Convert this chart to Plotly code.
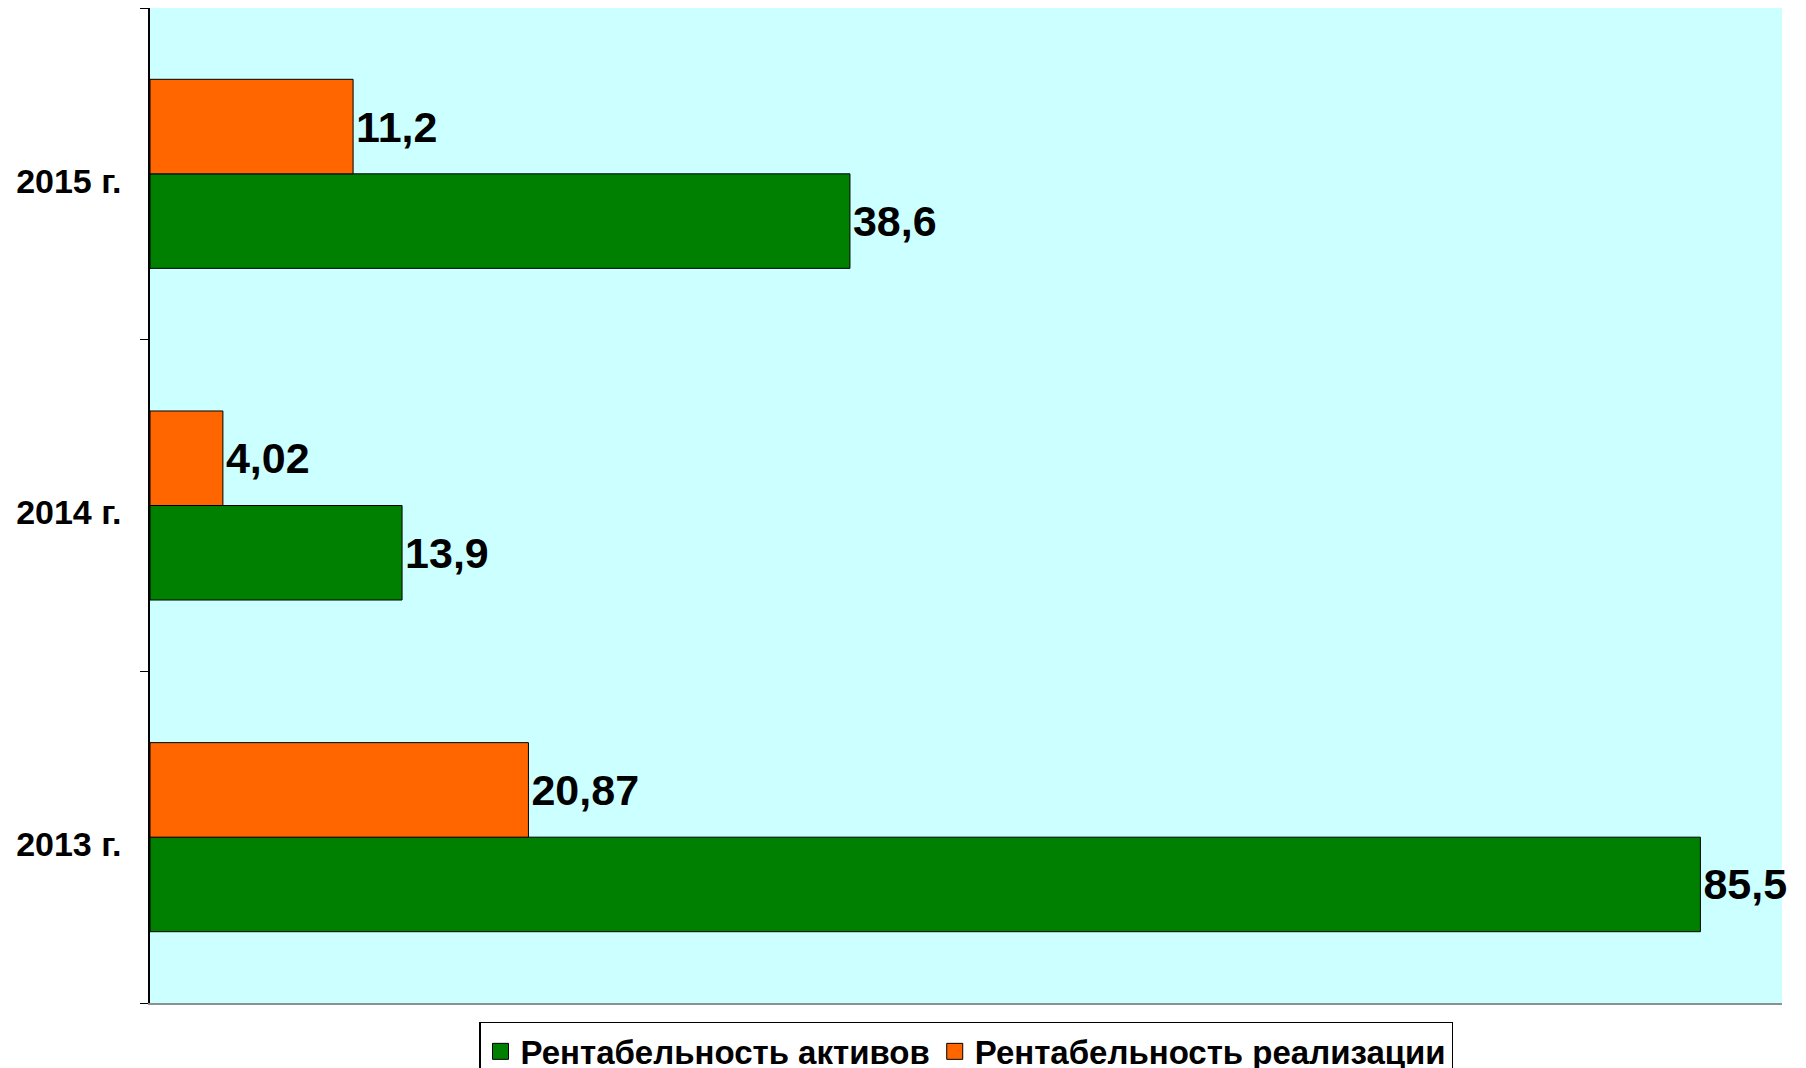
import plotly.graph_objects as go

categories = ["2013 г.", "2014 г.", "2015 г."]
assets = [85.5, 13.9, 38.6]
sales = [20.87, 4.02, 11.2]
series_names = ["Рентабельность активов", "Рентабельность реализации"]
colors = ["#008000", "#FF6600"]

def fmt(v):
    return f"{v:g}".replace(".", ",")

FONT = "Liberation Sans, Arial, sans-serif"

fig = go.Figure()
for vals, name, col in [(assets, series_names[0], colors[0]), (sales, series_names[1], colors[1])]:
    fig.add_trace(go.Bar(
        y=categories, x=vals, orientation="h", name=name, showlegend=False,
        marker=dict(color=col, line=dict(color="#000000", width=1)),
        text=[fmt(v) for v in vals], textposition="outside",
        textfont=dict(family=FONT, size=43, color="#000000", weight="bold"),
        cliponaxis=False, constraintext="none",
    ))

# legend entries with larger square swatches
for name, col in zip(series_names, colors):
    fig.add_trace(go.Scatter(
        x=[None], y=[None], mode="markers", name=name, showlegend=True,
        marker=dict(symbol="square", size=19, color=col,
                    line=dict(color="#000000", width=1)),
    ))

fig.update_layout(
    width=1806, height=1068,
    margin=dict(l=142, r=32, t=0, b=73, autoexpand=False),
    paper_bgcolor="#FFFFFF",
    plot_bgcolor="#CCFFFF",
    barmode="group",
    bargap=0.43,
    bargroupgap=0,
    font=dict(family=FONT, color="#000000"),
    showlegend=True,
    legend=dict(
        orientation="h", x=0.5, xanchor="center",
        y=-0.019, yanchor="top",
        bgcolor="#FFFFFF", bordercolor="#000000", borderwidth=1.5,
        font=dict(family=FONT, size=33, color="#000000", weight="bold"),
        itemsizing="trace", tracegroupgap=0, itemwidth=30,
    ),
    xaxis=dict(
        range=[0, 90], showticklabels=False, ticks="", showgrid=False,
        zeroline=False, showline=True, linecolor="#8C9090", linewidth=2,
        mirror=True,
    ),
    yaxis=dict(
        type="category", categoryorder="array", categoryarray=categories,
        tickson="boundaries", ticks="outside", ticklen=8, tickcolor="#000000",
        showgrid=False, zeroline=False, showline=True, linecolor="#000000",
        linewidth=1.5, mirror=False,
        tickfont=dict(family=FONT, size=34, color="#000000", weight="bold"),
        ticklabelstandoff=20, ticklabelshift=7,
    ),
)

fig.write_html("out.html")
